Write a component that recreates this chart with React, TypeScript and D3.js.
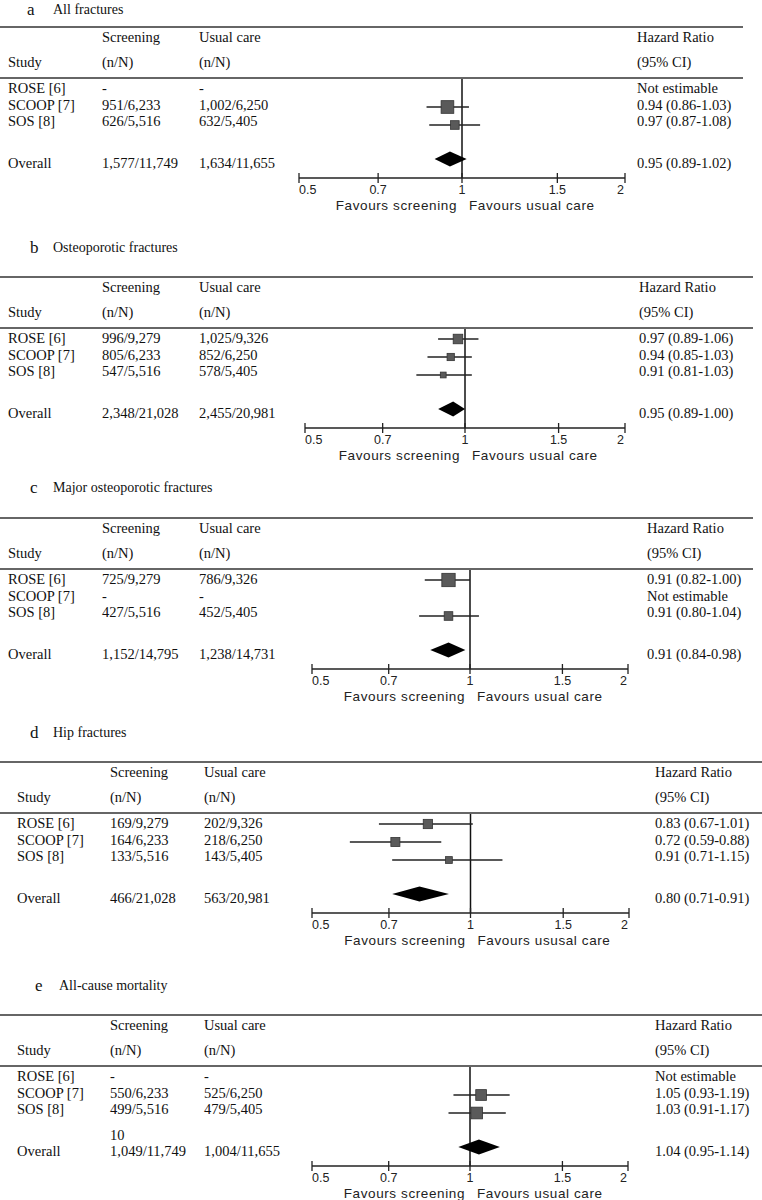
import * as d3 from 'd3';

// panel headings
const panelLetters = ['a', 'b', 'c', 'd', 'e'];
const panelTitles = [
  'All fractures',
  'Osteoporotic fractures',
  'Major osteoporotic fractures',
  'Hip fractures',
  'All-cause mortality',
];

const studies = ['ROSE [6]', 'SCOOP [7]', 'SOS [8]'];

// events / participants per study, one row per panel
const screeningCounts = [
  ['-', '951/6,233', '626/5,516'],
  ['996/9,279', '805/6,233', '547/5,516'],
  ['725/9,279', '-', '427/5,516'],
  ['169/9,279', '164/6,233', '133/5,516'],
  ['-', '550/6,233', '499/5,516'],
];
const usualCareCounts = [
  ['-', '1,002/6,250', '632/5,405'],
  ['1,025/9,326', '852/6,250', '578/5,405'],
  ['786/9,326', '-', '452/5,405'],
  ['202/9,326', '218/6,250', '143/5,405'],
  ['-', '525/6,250', '479/5,405'],
];
const overallScreening = ['1,577/11,749', '2,348/21,028', '1,152/14,795', '466/21,028', '1,049/11,749'];
const overallUsualCare = ['1,634/11,655', '2,455/20,981', '1,238/14,731', '563/20,981', '1,004/11,655'];
const overallScreeningNote = ['', '', '', '', '10'];

// hazard ratios (null = not estimable)
const hazardRatio = [
  [null, 0.94, 0.97],
  [0.97, 0.94, 0.91],
  [0.91, null, 0.91],
  [0.83, 0.72, 0.91],
  [null, 1.05, 1.03],
];
const ciLower = [
  [null, 0.86, 0.87],
  [0.89, 0.85, 0.81],
  [0.82, null, 0.8],
  [0.67, 0.59, 0.71],
  [null, 0.93, 0.91],
];
const ciUpper = [
  [null, 1.03, 1.08],
  [1.06, 1.03, 1.03],
  [1.0, null, 1.04],
  [1.01, 0.88, 1.15],
  [null, 1.19, 1.17],
];
// study weight (%)
const studyWeight = [
  [0, 67, 31],
  [38, 22, 14],
  [74, 0, 31],
  [36, 34, 19],
  [0, 48, 57],
];

const overallHR = [0.95, 0.95, 0.91, 0.8, 1.04];
const overallLower = [0.89, 0.89, 0.84, 0.71, 0.95];
const overallUpper = [1.02, 1.0, 0.98, 0.91, 1.14];

const axisTicks = [0.5, 0.7, 1, 1.5, 2];
const favoursLeft = 'Favours screening';
const favoursRight = ['Favours usual care', 'Favours usual care', 'Favours usual care', 'Favours ususal care', 'Favours usual care'];

const SERIF = '"Liberation Serif", "Times New Roman", serif';
const SANS = '"Liberation Sans", Arial, sans-serif';

// where each panel sits on the page
const panelLayout = [
  { top: 27, titleY: 9, letterX: 27, titleX: 53, studyX: 8, scrX: 102, usualX: 199, hrX: 637, plotLeft: 299, plotRight: 625, lineEnd: 743 },
  { top: 277, titleY: 247, letterX: 30, titleX: 53, studyX: 8, scrX: 102, usualX: 199, hrX: 639, plotLeft: 305, plotRight: 625, lineEnd: 753 },
  { top: 518, titleY: 487, letterX: 30, titleX: 53, studyX: 8, scrX: 102, usualX: 199, hrX: 647, plotLeft: 312, plotRight: 628, lineEnd: 753 },
  { top: 762, titleY: 732, letterX: 30, titleX: 53, studyX: 17, scrX: 110, usualX: 204, hrX: 655, plotLeft: 312, plotRight: 629, lineEnd: 762 },
  { top: 1015, titleY: 985, letterX: 35, titleX: 59, studyX: 17, scrX: 110, usualX: 204, hrX: 655, plotLeft: 312, plotRight: 628, lineEnd: 762 },
];

const fmt = d3.format('.2f');

function Panel({ i }: { i: number }) {
  const L = panelLayout[i];
  const T = L.top;
  const x = d3.scaleLog().domain([0.5, 2]).range([L.plotLeft, L.plotRight]);
  const box = d3.scaleSqrt().domain([0, 100]).range([0, 15.5]);

  const line2 = T + 51;
  const textRow = (j: number) => T + 61 + j * 16.5;
  const markRow = (j: number) => T + 62 + j * 18;
  const overallY = T + 136;
  const diamondY = T + 132;
  const axisY = T + 151;
  const x1 = x(1);

  const txt = { fontFamily: SERIF, fontSize: 14.5, fill: '#111' } as const;
  const sans = { fontFamily: SANS, fill: '#222' } as const;

  const diamond = d3.line()([
    [x(overallLower[i]), diamondY],
    [x(overallHR[i]), diamondY - 7.5],
    [x(overallUpper[i]), diamondY],
    [x(overallHR[i]), diamondY + 7.5],
  ]) + 'Z';

  return (
    <g>
      <text x={L.letterX} y={L.titleY} dominantBaseline="central" style={{ ...txt, fontSize: 17 }}>
        {panelLetters[i]}
      </text>
      <text x={L.titleX} y={L.titleY} dominantBaseline="central" style={{ ...txt, fontSize: 14 }}>
        {panelTitles[i]}
      </text>

      <line x1={0} x2={L.lineEnd} y1={T} y2={T} stroke="#666" strokeWidth={2} />
      <line x1={0} x2={L.lineEnd} y1={line2} y2={line2} stroke="#666" strokeWidth={2} />

      <text x={L.scrX} y={T + 9.5} dominantBaseline="central" style={txt}>Screening</text>
      <text x={L.usualX} y={T + 9.5} dominantBaseline="central" style={txt}>Usual care</text>
      <text x={L.hrX} y={T + 9.5} dominantBaseline="central" style={txt}>Hazard Ratio</text>
      <text x={L.studyX} y={T + 35} dominantBaseline="central" style={txt}>Study</text>
      <text x={L.scrX} y={T + 35} dominantBaseline="central" style={txt}>(n/N)</text>
      <text x={L.usualX} y={T + 35} dominantBaseline="central" style={txt}>(n/N)</text>
      <text x={L.hrX} y={T + 35} dominantBaseline="central" style={txt}>(95% CI)</text>

      {studies.map((s, j) => {
        const hr = hazardRatio[i][j];
        const lo = ciLower[i][j];
        const hi = ciUpper[i][j];
        const label = hr == null ? 'Not estimable' : `${fmt(hr)} (${fmt(lo as number)}-${fmt(hi as number)})`;
        return (
          <g key={s}>
            <text x={L.studyX} y={textRow(j)} dominantBaseline="central" style={txt}>{s}</text>
            <text x={L.scrX} y={textRow(j)} dominantBaseline="central" style={txt}>{screeningCounts[i][j]}</text>
            <text x={L.usualX} y={textRow(j)} dominantBaseline="central" style={txt}>{usualCareCounts[i][j]}</text>
            <text x={L.hrX} y={textRow(j)} dominantBaseline="central" style={txt}>{label}</text>
          </g>
        );
      })}

      {overallScreeningNote[i] && (
        <text x={L.scrX} y={overallY - 16} dominantBaseline="central" style={txt}>{overallScreeningNote[i]}</text>
      )}
      <text x={L.studyX} y={overallY} dominantBaseline="central" style={txt}>Overall</text>
      <text x={L.scrX} y={overallY} dominantBaseline="central" style={txt}>{overallScreening[i]}</text>
      <text x={L.usualX} y={overallY} dominantBaseline="central" style={txt}>{overallUsualCare[i]}</text>
      <text x={L.hrX} y={overallY} dominantBaseline="central" style={txt}>
        {`${fmt(overallHR[i])} (${fmt(overallLower[i])}-${fmt(overallUpper[i])})`}
      </text>

      {/* line of no effect */}
      <line x1={x1} x2={x1} y1={line2 + 1} y2={axisY} stroke="#111" strokeWidth={1.5} />

      {studies.map((s, j) => {
        const hr = hazardRatio[i][j];
        if (hr == null) return null;
        const size = box(studyWeight[i][j]);
        const y = markRow(j);
        return (
          <g key={s}>
            <line x1={x(ciLower[i][j] as number)} x2={x(ciUpper[i][j] as number)} y1={y} y2={y} stroke="#222" strokeWidth={1.4} />
            <rect x={x(hr) - size / 2} y={y - size / 2} width={size} height={size} fill="#5a5a5a" stroke="#333" strokeWidth={0.8} />
          </g>
        );
      })}

      <path d={diamond} fill="#000" />

      {/* axis */}
      <line x1={x(0.5)} x2={x(2)} y1={axisY} y2={axisY} stroke="#222" strokeWidth={1.6} />
      {axisTicks.map((t, k) => (
        <g key={t}>
          <line x1={x(t)} x2={x(t)} y1={axisY - 5} y2={axisY + 5} stroke="#222" strokeWidth={1.3} />
          <text
            x={k === axisTicks.length - 1 ? x(t) - 1 : x(t)}
            y={axisY + 12}
            textAnchor={k === 0 ? 'start' : k === axisTicks.length - 1 ? 'end' : 'middle'}
            dominantBaseline="central"
            style={{ ...sans, fontSize: 12.5 }}
          >
            {String(t)}
          </text>
        </g>
      ))}
      <text x={x1 - 5} y={axisY + 27.5} textAnchor="end" dominantBaseline="central" style={{ ...sans, fontSize: 13.5, letterSpacing: 0.6 }}>
        {favoursLeft}
      </text>
      <text x={x1 + 7} y={axisY + 27.5} dominantBaseline="central" style={{ ...sans, fontSize: 13.5, letterSpacing: 0.6 }}>
        {favoursRight[i]}
      </text>
    </g>
  );
}

export default function App() {
  return (
    <svg
      width={762}
      height={1200}
      style={{ position: 'absolute', left: 0, top: 0, background: '#fff' }}
    >
      <rect width={762} height={1200} fill="#fff" />
      {panelLetters.map((_, i) => (
        <Panel key={i} i={i} />
      ))}
    </svg>
  );
}
